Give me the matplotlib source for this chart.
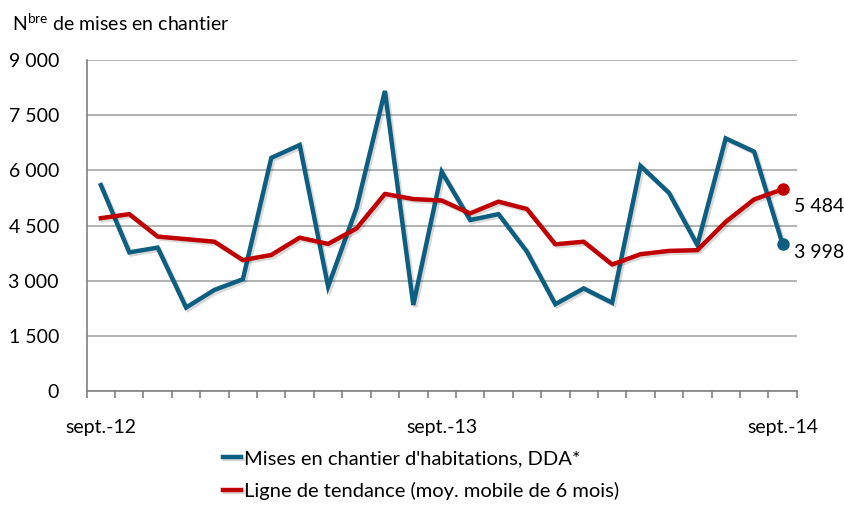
import matplotlib
matplotlib.use("Agg")
import matplotlib.pyplot as plt
import matplotlib.patheffects as pe
from matplotlib.ticker import FuncFormatter, FixedLocator

plt.rcParams['font.family'] = ['Lato', 'DejaVu Sans']
plt.rcParams['mathtext.fontset'] = 'custom'
plt.rcParams['mathtext.rm'] = 'Lato'

# monthly values, sept-12 .. sept-14
months = ['sept.-12', 'oct.-12', 'nov.-12', 'déc.-12', 'janv.-13', 'févr.-13',
          'mars-13', 'avr.-13', 'mai-13', 'juin-13', 'juil.-13', 'août-13',
          'sept.-13', 'oct.-13', 'nov.-13', 'déc.-13', 'janv.-14', 'févr.-14',
          'mars-14', 'avr.-14', 'mai-14', 'juin-14', 'juil.-14', 'août-14',
          'sept.-14']
starts = [5600, 3770, 3900, 2270, 2750, 3040, 6340, 6690, 2840, 4970, 8160, 2340,
          5960, 4650, 4810, 3790, 2360, 2790, 2400, 6120, 5390, 3970, 6870, 6510,
          3998]
trend = [4700, 4810, 4200, 4130, 4060, 3560, 3700, 4170, 4000, 4420, 5360, 5220,
         5180, 4830, 5150, 4950, 3990, 4060, 3440, 3720, 3810, 3830, 4600, 5210,
         5484]
shown_labels = {0: 'sept.-12', 12: 'sept.-13', 24: 'sept.-14'}

blue = '#0D5E80'
red = '#C00000'
grid_col = '#A6A6A6'

fig = plt.figure(figsize=(8.44, 5.08), dpi=100)
ax = fig.add_axes([0.1027, 0.2303, 0.8413, 0.6515])

x = list(range(len(months)))
shadow = [pe.SimpleLineShadow(offset=(1.5, -1.5), alpha=0.15), pe.Normal()]
l1, = ax.plot(x, starts, color=blue, lw=3.2, solid_joinstyle='miter',
              path_effects=shadow, label="Mises en chantier d'habitations, DDA*")
l2, = ax.plot(x, trend, color=red, lw=3.2, solid_joinstyle='round',
              path_effects=shadow, label='Ligne de tendance (moy. mobile de 6 mois)')
ax.plot(x[-1], starts[-1], 'o', color=blue, ms=8, zorder=5)
ax.plot(x[-1], trend[-1], 'o', color=red, ms=8, zorder=5)

fmt = lambda v: f"{v:,.0f}".replace(',', ' ')
ax.annotate(fmt(trend[-1]), (x[-1], trend[-1]), xytext=(8, -12),
            textcoords='offset points', fontsize=14, va='center', ha='left')
ax.annotate(fmt(starts[-1]), (x[-1], starts[-1]), xytext=(8, -6),
            textcoords='offset points', fontsize=14, va='center', ha='left')

ax.set_xlim(-0.5, len(months) - 0.5)
ax.set_ylim(0, 9000)
ax.set_yticks(range(0, 9001, 1500))
ax.yaxis.set_major_formatter(FuncFormatter(lambda v, p: fmt(v)))
ax.tick_params(axis='y', length=0, labelsize=14, pad=20)
ax.yaxis.grid(True, color=grid_col, lw=1.2)
ax.set_axisbelow(True)

ax.xaxis.set_major_locator(FixedLocator(list(shown_labels.keys())))
ax.set_xticklabels(list(shown_labels.values()))
ax.xaxis.set_minor_locator(FixedLocator([i - 0.5 for i in range(len(months) + 1)]))
ax.tick_params(axis='x', which='major', length=0, labelsize=14, pad=20)
ax.tick_params(axis='x', which='minor', length=5, width=1.2, color='#808080')

for s in ['top', 'right']:
    ax.spines[s].set_visible(False)
for s in ['left', 'bottom']:
    ax.spines[s].set_color('#808080')
    ax.spines[s].set_linewidth(1.2)

fig.text(0.014, 0.955, 'N$^{\\mathrm{bre}}$ de mises en chantier', fontsize=14,
         va='center', ha='left')

fig.legend(handles=[l1, l2], loc='upper left', bbox_to_anchor=(0.255, 0.13),
           frameon=False, fontsize=14.5, handlelength=0.9, handletextpad=0.15,
           labelspacing=0.75, borderaxespad=0)

fig.savefig('out.png', dpi=100)
